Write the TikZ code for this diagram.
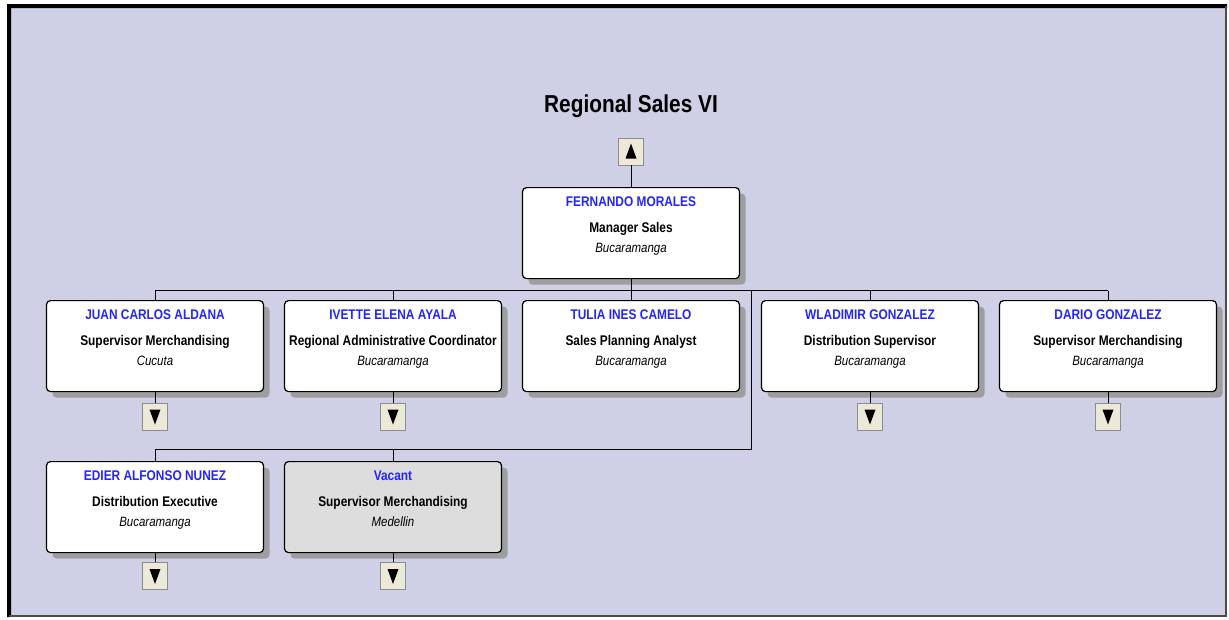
\documentclass[tikz,border=0pt]{standalone}
\usepackage{fontspec}
\setmainfont{Liberation Sans}
\newfontfamily\chartfont[FakeStretch=0.85]{Liberation Sans}
\usetikzlibrary{shadows}
\definecolor{chartbg}{RGB}{207,207,230}
\definecolor{namecol}{RGB}{36,36,255}
\definecolor{btnfill}{RGB}{236,233,216}
\definecolor{vacantfill}{RGB}{221,221,221}
\tikzset{
  card/.style={draw,line width=1.2pt,rounded corners=4pt,fill=white,inner sep=0pt,
    minimum width=217pt,minimum height=91pt,anchor=north,
    general shadow={fill=black!38,shadow xshift=6pt,shadow yshift=-6pt}},
  who/.style={anchor=base,inner sep=0pt,text=namecol,font=\chartfont\bfseries\fontsize{14}{16}\selectfont},
  job/.style={anchor=base,inner sep=0pt,font=\chartfont\bfseries\fontsize{14}{16}\selectfont},
  town/.style={anchor=base,inner sep=0pt,font=\chartfont\itshape\fontsize{13.5}{15}\selectfont},
  btn/.style={draw=black!45,line width=.6pt,fill=btnfill,minimum width=25pt,minimum height=27pt,inner sep=0pt},
  downbtn/.style={btn,path picture={\fill[black] ([xshift=-5.5pt,yshift=7pt]path picture bounding box.center)
    -- ++(11pt,0pt) -- ++(-5.5pt,-15pt) -- cycle;}},
  upbtn/.style={btn,path picture={\fill[black] ([xshift=-5.5pt,yshift=-7pt]path picture bounding box.center)
    -- ++(11pt,0pt) -- ++(-5.5pt,15pt) -- cycle;}},
  link/.style={line width=1pt}
}
% #1 fill, #2 node name, #3 x, #4 top, #5 person, #6 job, #7 town
\newcommand{\orgcard}[7][white]{%
  \node[card,fill=#1] (#2) at (#3,#4) {};
  \node[who] at (#3,#4+19) {#5};
  \node[job] at (#3,#4+45) {#6};
  \node[town] at (#3,#4+65) {#7};
}

\begin{document}
\begin{tikzpicture}[x=1pt,y=-1pt]
  \fill[white] (0,0) rectangle (1229,619);
  \fill[chartbg] (7,4) rectangle (1227,617);
  \fill[black] (7,4) rectangle (1227,8) (7,4) rectangle (11,617);
  \draw[black!70,line width=1.5pt] (1226,6) -- (1226,616) -- (9,616);

  \node[anchor=base,inner sep=0pt,font=\chartfont\bfseries\fontsize{24.5}{28}\selectfont] (title) at (631,112) {Regional Sales VI};

  \orgcard{fm}{631}{187}{FERNANDO MORALES}{Manager Sales}{Bucaramanga}
  \node[upbtn] (fm-up) at (631,151.5) {};
  \draw[link] (fm-up) -- (fm);

  \foreach \id/\x/\who/\job/\town in {
      juan/155/JUAN CARLOS ALDANA/Supervisor Merchandising/Cucuta,
      ivette/393/IVETTE ELENA AYALA/Regional Administrative Coordinator/Bucaramanga,
      tulia/631/TULIA INES CAMELO/Sales Planning Analyst/Bucaramanga,
      wlad/870/WLADIMIR GONZALEZ/Distribution Supervisor/Bucaramanga,
      dario/1108/DARIO GONZALEZ/Supervisor Merchandising/Bucaramanga} {
    \orgcard{\id}{\x}{300}{\who}{\job}{\town}
  }
  \foreach \id in {juan,ivette,wlad,dario} {
    \node[downbtn] (\id-down) at (\id |- 0,416.5) {};
    \draw[link] (\id) -- (\id-down);
  }

  \orgcard{edier}{155}{461}{EDIER ALFONSO NUNEZ}{Distribution Executive}{Bucaramanga}
  \orgcard[vacantfill]{vacant}{393}{461}{Vacant}{Supervisor Merchandising}{Medellin}
  \foreach \id in {edier,vacant} {
    \node[downbtn] (\id-down) at (\id |- 0,576) {};
    \draw[link] (\id) -- (\id-down);
  }

  \coordinate (bus) at (631,290.5);
  \coordinate (split) at (751,290.5);
  \coordinate (bus2) at (751,449.5);
  \draw[link] (fm) -- (bus);
  \draw[link] (juan.north |- bus) -- (dario.north |- bus);
  \foreach \id in {juan,ivette,tulia,wlad,dario}
    \draw[link] (\id.north |- bus) -- (\id.north);
  \draw[link] (split) -- (bus2) -- (edier.north |- bus2);
  \foreach \id in {edier,vacant}
    \draw[link] (\id.north |- bus2) -- (\id.north);
\end{tikzpicture}
\end{document}
